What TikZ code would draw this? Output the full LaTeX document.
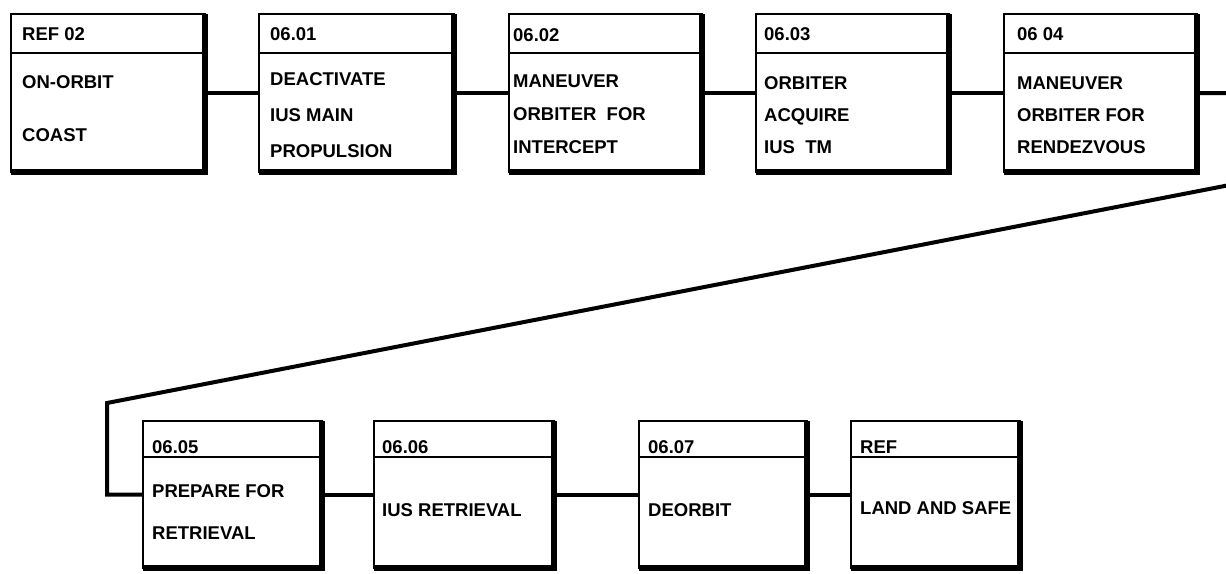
\documentclass[tikz,border=0pt]{standalone}
\usepackage{fontspec}
\setmainfont{Liberation Sans}
\usetikzlibrary{calc, math}
\tikzset{
  stepbox/.style={draw, line width=1.6pt, anchor=north west, inner sep=0pt, outer sep=0pt},
  topbox/.style={stepbox, minimum height=158pt},
  lowbox/.style={stepbox, minimum height=147pt},
  shadowline/.style={line width=6pt},
  headline/.style={line width=1.8pt},
  link/.style={line width=4pt},
  idtext/.style={anchor=west, inner sep=0pt, font=\bfseries\fontsize{18.5}{23}\selectfont},
  bodytext/.style={anchor=north west, inner sep=0pt, align=left, font=\bfseries\fontsize{18.5}{#1}\selectfont}
}

\begin{document}
\begin{tikzpicture}[x=1pt, y=-1pt]
\tikzmath{
\toprow=14;
\lowrow=421;
\hdtop=39;
\hdlow=36;
}
\useasboundingbox (0,0) rectangle (1226,573);
\clip (0,0) rectangle (1226,573);

% top row
\node[topbox, minimum width=194pt] (b1) at (11,\toprow) {};
\node[topbox, minimum width=195pt] (b2) at (259,\toprow) {};
\node[topbox, minimum width=193pt] (b3) at (509,\toprow) {};
\node[topbox, minimum width=193pt] (b4) at (756,\toprow) {};
\node[topbox, minimum width=193pt] (b5) at (1004,\toprow) {};

\draw[shadowline] (b1.north east) -- (b1.south east) -- (b1.south west);
\draw[shadowline] (b2.north east) -- (b2.south east) -- (b2.south west);
\draw[shadowline] (b3.north east) -- (b3.south east) -- (b3.south west);
\draw[shadowline] (b4.north east) -- (b4.south east) -- (b4.south west);
\draw[shadowline] (b5.north east) -- (b5.south east) -- (b5.south west);

\draw[headline] ($(b1.north west)+(0,\hdtop)$) -- ($(b1.north east)+(0,\hdtop)$);
\draw[headline] ($(b2.north west)+(0,\hdtop)$) -- ($(b2.north east)+(0,\hdtop)$);
\draw[headline] ($(b3.north west)+(0,\hdtop)$) -- ($(b3.north east)+(0,\hdtop)$);
\draw[headline] ($(b4.north west)+(0,\hdtop)$) -- ($(b4.north east)+(0,\hdtop)$);
\draw[headline] ($(b5.north west)+(0,\hdtop)$) -- ($(b5.north east)+(0,\hdtop)$);

\node[idtext] (b1id) at ($(b1.north west)+(11,20)$) {REF 02};
\node[idtext] (b2id) at ($(b2.north west)+(11,20)$) {06.01};
\node[idtext] (b3id) at ($(b3.north west)+(4,21)$) {06.02};
\node[idtext] (b4id) at ($(b4.north west)+(8,20)$) {06.03};
\node[idtext] (b5id) at ($(b5.north west)+(13,20)$) {06 04};

\node[bodytext=53] (b1txt) at ($(b1.north west)+(11,61)$) {ON-ORBIT\\COAST};
\node[bodytext=36] (b2txt) at ($(b2.north west)+(11,58)$) {DEACTIVATE\\IUS MAIN\\PROPULSION};
\node[bodytext=33] (b3txt) at ($(b3.north west)+(4,61)$) {MANEUVER\\ORBITER\ \ FOR\\INTERCEPT};
\node[bodytext=32] (b4txt) at ($(b4.north west)+(8,62)$) {ORBITER\\ACQUIRE\\IUS\ \ TM};
\node[bodytext=32] (b5txt) at ($(b5.north west)+(13,63)$) {MANEUVER\\ORBITER FOR\\RENDEZVOUS};

% bottom row
\node[lowbox, minimum width=179pt] (b6) at (143,\lowrow) {};
\node[lowbox, minimum width=180pt] (b7) at (374,\lowrow) {};
\node[lowbox, minimum width=168pt] (b8) at (639,\lowrow) {};
\node[lowbox, minimum width=169pt] (b9) at (851,\lowrow) {};

\draw[shadowline] (b6.north east) -- (b6.south east) -- (b6.south west);
\draw[shadowline] (b7.north east) -- (b7.south east) -- (b7.south west);
\draw[shadowline] (b8.north east) -- (b8.south east) -- (b8.south west);
\draw[shadowline] (b9.north east) -- (b9.south east) -- (b9.south west);

\draw[headline] ($(b6.north west)+(0,\hdlow)$) -- ($(b6.north east)+(0,\hdlow)$);
\draw[headline] ($(b7.north west)+(0,\hdlow)$) -- ($(b7.north east)+(0,\hdlow)$);
\draw[headline] ($(b8.north west)+(0,\hdlow)$) -- ($(b8.north east)+(0,\hdlow)$);
\draw[headline] ($(b9.north west)+(0,\hdlow)$) -- ($(b9.north east)+(0,\hdlow)$);

\node[idtext] (b6id) at ($(b6.north west)+(9,26)$) {06.05};
\node[idtext] (b7id) at ($(b7.north west)+(8,26)$) {06.06};
\node[idtext] (b8id) at ($(b8.north west)+(9,26)$) {06.07};
\node[idtext] (b9id) at ($(b9.north west)+(9,26)$) {REF};

\node[bodytext=42] (b6txt) at ($(b6.north west)+(9,63)$) {PREPARE FOR\\RETRIEVAL};
\node[bodytext=42] (b7txt) at ($(b7.north west)+(8,82)$) {IUS RETRIEVAL};
\node[bodytext=42] (b8txt) at ($(b8.north west)+(9,82)$) {DEORBIT};
\node[bodytext=42] (b9txt) at ($(b9.north west)+(9,80)$) {LAND AND SAFE};

% connectors
\coordinate (wrapA) at (1240,93);
\coordinate (wrapB) at (1240,183);
\coordinate (wrapC) at (107,403);

\draw[link] (b1.east) -- (b2.west);
\draw[link] (b2.east) -- (b3.west);
\draw[link] (b3.east) -- (b4.west);
\draw[link] (b4.east) -- (b5.west);
\draw[link] (b5.east) -- (wrapA) -- (wrapB) -- (wrapC) |- (b6.west);
\draw[link] (b6.east) -- (b7.west);
\draw[link] (b7.east) -- (b8.west);
\draw[link] (b8.east) -- (b9.west);
\end{tikzpicture}
\end{document}
